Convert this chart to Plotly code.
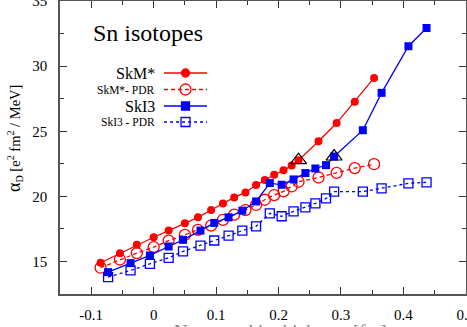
import plotly.graph_objects as go

# ---- data ----
skm_x = [-0.085, -0.054, -0.027, 0.0, 0.024, 0.050, 0.071, 0.092, 0.111, 0.129, 0.147,
         0.164, 0.178, 0.193, 0.208, 0.221, 0.232, 0.264, 0.293, 0.322, 0.353]
skm_y = [14.9, 15.63, 16.28, 16.86, 17.37, 17.93, 18.39, 18.95, 19.46, 19.92, 20.3,
         20.87, 21.25, 21.66, 22.0, 22.37, 22.78, 24.23, 25.63, 27.27, 29.1]
skm_pdr_y = [14.52, 15.15, 15.64, 16.1, 16.6, 17.04, 17.43, 17.75, 18.2, 18.6, 18.95,
             19.34, 19.74, 20.1, 20.38, 20.76, 21.12, 21.45, 21.8, 22.17, 22.47]

ski3_x = [-0.073, -0.037, -0.006, 0.024, 0.047, 0.075, 0.097, 0.120, 0.142, 0.164, 0.186,
          0.205, 0.224, 0.243, 0.259, 0.276, 0.289, 0.335, 0.365, 0.408, 0.437]
ski3_y = [14.18, 14.87, 15.46, 16.15, 16.66, 17.37, 17.96, 18.39, 18.9, 19.61, 21.02,
          20.89, 21.3, 21.79, 22.14, 22.4, 23.06, 25.08, 27.95, 31.53, 32.93]
ski3_pdr_y = [13.8, 14.31, 14.82, 15.28, 15.77, 16.22, 16.61, 16.99, 17.37, 17.7, 18.7,
              18.47, 18.85, 19.15, 19.46, 19.84, 20.36, 20.36, 20.61, 21.0, 21.08]

marked_x = [0.232, 0.289]
marked_y = [22.78, 23.06]

series_names = ["SkM*", "SkM*- PDR", "SkI3", "SkI3 - PDR"]
title_text = "Sn isotopes"
x_title = "Neutron skin thickness [fm]"
y_title = ("<span style='font-size:18px'>α</span><sub>D</sub> "
           "[e<sup>2</sup> fm<sup>2</sup> / MeV]")
x_tickvals = [-0.1, 0, 0.1, 0.2, 0.3, 0.4, 0.5]
x_ticktext = ["-0.1", "0", "0.1", "0.2", "0.3", "0.4", "0.5"]
y_tickvals = [15, 20, 25, 30, 35]

RED = "#ff0000"
BLUE = "#0000ff"
FONT = "Liberation Serif, DejaVu Serif, serif"

fig = go.Figure()
fig.add_trace(go.Scatter(x=skm_x, y=skm_pdr_y, mode="lines+markers", name=series_names[1],
                         line=dict(color=RED, width=1.3, dash="4px,3px"),
                         marker=dict(symbol="circle-open", size=11, color=RED, line=dict(width=1.3))))
fig.add_trace(go.Scatter(x=ski3_x, y=ski3_pdr_y, mode="lines+markers", name=series_names[3],
                         line=dict(color=BLUE, width=1.3, dash="3px,3px"),
                         marker=dict(symbol="square-open", size=9, color=BLUE, line=dict(width=1.3))))
fig.add_trace(go.Scatter(x=skm_x, y=skm_y, mode="lines+markers", name=series_names[0],
                         line=dict(color=RED, width=1.3),
                         marker=dict(symbol="circle", size=8, color=RED)))
fig.add_trace(go.Scatter(x=ski3_x, y=ski3_y, mode="lines+markers", name=series_names[2],
                         line=dict(color=BLUE, width=1.3),
                         marker=dict(symbol="square", size=8, color=BLUE)))
fig.add_trace(go.Scatter(x=marked_x, y=marked_y, mode="markers", showlegend=False,
                         marker=dict(symbol="triangle-up-open", size=14, color="black",
                                     line=dict(width=1.2, color="black"))))

# ---- plot geometry (pixels) ----
W, H = 467, 327
ML, MR, MT, MB = 60, 1, 1, 33
PW = W - ML - MR
PH = H - MT - MB


def px(xp):
    return (xp - ML) / PW


def py(yp):
    return (H - MB - yp) / PH


shapes = []
annotations = []
rows = [73, 89.5, 106, 122]
styles = [
    dict(color=RED, dash="solid", sym="circle", fill=True, size=8),
    dict(color=RED, dash="4px,3px", sym="circle", fill=False, size=11),
    dict(color=BLUE, dash="solid", sym="square", fill=True, size=8),
    dict(color=BLUE, dash="3px,3px", sym="square", fill=False, size=9),
]
fsizes = [16, 11.5, 16, 11.5]
for name, yrow, st, fs in zip(series_names, rows, styles, fsizes):
    shapes.append(dict(type="line", xref="paper", yref="paper",
                       x0=px(164), x1=px(207), y0=py(yrow), y1=py(yrow),
                       line=dict(color=st["color"], width=1.3, dash=st["dash"])))
    h = st["size"] / 2
    shapes.append(dict(type="circle" if st["sym"] == "circle" else "rect",
                       xref="paper", yref="paper",
                       x0=px(185.5 - h), x1=px(185.5 + h), y0=py(yrow + h), y1=py(yrow - h),
                       line=dict(color=st["color"], width=1.3),
                       fillcolor=st["color"] if st["fill"] else "rgba(0,0,0,0)"))
    annotations.append(dict(text=name, xref="paper", yref="paper", x=px(157), y=py(yrow),
                            xanchor="right", yanchor="middle", showarrow=False,
                            font=dict(family=FONT, size=fs, color="black")))

annotations.append(dict(text=title_text, xref="paper", yref="paper", x=px(91), y=py(33),
                        xanchor="left", yanchor="middle", showarrow=False,
                        font=dict(family=FONT, size=24, color="black")))
# x-axis title, mostly below the visible page (as in the reference)
annotations.append(dict(text=x_title, xref="paper", yref="paper", x=px(280), y=py(318.5),
                        xanchor="center", yanchor="top", showarrow=False,
                        font=dict(family=FONT, size=19, color="#888")))
# y-axis title
annotations.append(dict(text=y_title, xref="paper", yref="paper", x=px(14), y=py(139),
                        xanchor="center", yanchor="middle", textangle=-90, showarrow=False,
                        font=dict(family=FONT, size=14.5, color="black")))

axis_common = dict(showline=True, linecolor="#555", linewidth=1.5, mirror="allticks",
                   ticks="inside", ticklen=7, tickwidth=1.2, tickcolor="#333",
                   showgrid=False, zeroline=False, ticklabeloverflow="allow",
                   automargin=False,
                   tickfont=dict(family=FONT, size=15, color="black"))

fig.update_layout(
    width=W, height=H,
    margin=dict(l=ML, r=MR, t=MT, b=MB),
    plot_bgcolor="white", paper_bgcolor="white",
    showlegend=False,
    font=dict(family=FONT),
    shapes=shapes, annotations=annotations,
    xaxis=dict(range=[-0.15, 0.5002], tickvals=x_tickvals, ticktext=x_ticktext,
               minor=dict(dtick=0.05, ticks="inside", ticklen=4, tickcolor="#333"),
               ticklabelstandoff=6,
               **axis_common),
    yaxis=dict(range=[12.5, 35.005], tickvals=y_tickvals,
               minor=dict(dtick=2.5, tick0=0, ticks="inside", ticklen=4, tickcolor="#333"),
               ticklabelstandoff=8,
               **axis_common),
)

fig.write_html("out.html", config={"displayModeBar": False},
               post_script="document.body.style.margin='0';document.body.style.overflow='hidden';")
